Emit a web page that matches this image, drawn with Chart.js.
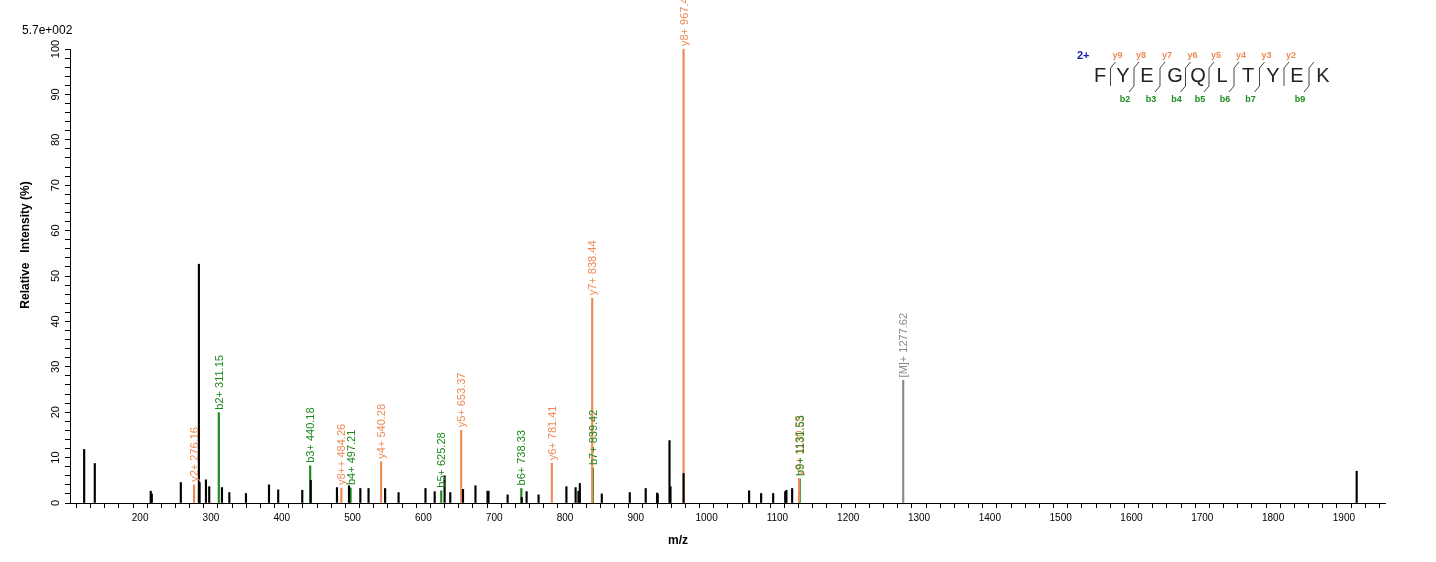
<!DOCTYPE html>
<html>
<head>
<meta charset="utf-8">
<script src="https://cdn.jsdelivr.net/npm/chart.js@4.4.1/dist/chart.umd.min.js"></script>
<style>
  body { margin: 0; background: #fff; }
  #wrap { width: 1436px; height: 562px; }
</style>
</head>
<body>
<div id="wrap"><canvas id="spectrum"></canvas></div>
<script>
// unannotated peaks (m/z, relative intensity %)
const otherMz = [121, 136, 215, 216.5, 257.5, 283, 284, 293, 297.6, 315.6, 326, 349.5, 382, 395, 429, 441, 478, 495, 511, 522.6, 546, 565,
  603, 616, 630, 638, 656, 673.6, 690.6, 692, 719, 739, 745.8, 762.7, 802, 815, 819, 821, 852, 891.5, 914, 930, 931, 947.6, 949, 967.5,
  1060, 1077, 1094, 1111, 1112.7, 1120.8, 1918];
const otherInt = [11.8, 8.7, 2.6, 2.0, 4.5, 52.6, 4.5, 5.1, 3.6, 3.4, 2.3, 2.1, 4.0, 2.9, 2.8, 5.0, 3.4, 3.8, 3.2, 3.2, 3.2, 2.3,
  3.2, 2.5, 6.0, 2.3, 3.0, 3.8, 2.6, 2.6, 1.8, 1.2, 2.5, 1.8, 3.6, 3.4, 2.6, 4.3, 2.0, 2.3, 3.2, 2.2, 2.0, 13.75, 3.6, 6.5,
  2.7, 2.1, 2.1, 2.5, 2.8, 3.2, 7.0];

// y ions
const yMz = [276.16, 484.26, 540.28, 653.37, 781.41, 838.44, 967.49, 1130.55];
const yInt = [4.0, 3.3, 9.1, 16.0, 8.75, 45.1, 100, 5.4];
const yLabels = ['y2+ 276.16', 'y8++ 484.26', 'y4+ 540.28', 'y5+ 653.37', 'y6+ 781.41', 'y7+ 838.44', 'y8+ 967.49', 'y9+ 1130.55'];

// b ions
const bMz = [311.15, 440.18, 497.21, 625.28, 738.33, 839.42, 1131.53];
const bInt = [19.9, 8.2, 3.3, 2.7, 3.2, 7.7, 5.3];
const bLabels = ['b2+ 311.15', 'b3+ 440.18', 'b4+ 497.21', 'b5+ 625.28', 'b6+ 738.33', 'b7+ 839.42', 'b9+ 1131.53'];

// precursor
const mMz = [1277.62];
const mInt = [27.0];
const mLabels = ['[M]+ 1277.62'];

const sequence = ['F', 'Y', 'E', 'G', 'Q', 'L', 'T', 'Y', 'E', 'K'];
const yIonNames = ['y9', 'y8', 'y7', 'y6', 'y5', 'y4', 'y3', 'y2'];
const bIonNames = ['b2', 'b3', 'b4', 'b5', 'b6', 'b7', '', 'b9'];

const ORANGE = '#ee8a55';
const GREEN = '#1c8a1c';
const GREY = '#8a8a8a';

function pts(xs, ys) { return xs.map((x, i) => ({ x: x, y: ys[i] })); }

function ds(xs, ys, color, labels) {
  return {
    data: pts(xs, ys), backgroundColor: color, borderWidth: 0,
    barThickness: 1.5, grouped: false, peakLabels: labels, labelColor: color
  };
}

const overlay = {
  id: 'overlay',
  afterDatasetsDraw(chart) {
    const c = chart.ctx;
    const xs = chart.scales.x, ys = chart.scales.y;
    c.save();
    // peak labels
    c.font = '11px "Liberation Sans", Arial';
    c.textBaseline = 'middle';
    chart.data.datasets.forEach(d => {
      if (!d.peakLabels) return;
      d.data.forEach((p, i) => {
        const px = xs.getPixelForValue(p.x), py = ys.getPixelForValue(p.y);
        c.save();
        c.translate(px + 1, py - 3);
        c.rotate(-Math.PI / 2);
        c.fillStyle = d.labelColor;
        c.textAlign = 'left';
        c.fillText(d.peakLabels[i], 0, 0);
        c.restore();
      });
    });
    // y tick labels, rotated
    c.fillStyle = '#000';
    c.font = '11px "Liberation Sans", Arial';
    for (let v = 0; v <= 100; v += 10) {
      const py = ys.getPixelForValue(v);
      c.save();
      c.translate(xs.left - 14, py);
      c.rotate(-Math.PI / 2);
      c.textAlign = 'center';
      c.fillText(String(v), 0, 0);
      c.restore();
    }
    // axis titles
    c.font = 'bold 12px "Liberation Sans", Arial';
    c.save();
    c.translate(26, 245);
    c.rotate(-Math.PI / 2);
    c.textAlign = 'center';
    c.fillText('Relative   Intensity (%)', 0, 0);
    c.restore();
    c.textAlign = 'center';
    c.fillText('m/z', 678, 541);
    c.font = '12px "Liberation Sans", Arial';
    c.textAlign = 'left';
    c.fillText('5.7e+002', 22, 31);
    // peptide annotation
    c.font = 'bold 11px "Liberation Sans", Arial';
    c.fillStyle = '#1a1aaa';
    c.fillText('2+', 1077, 56);
    c.font = '20px "Liberation Sans", Arial';
    c.fillStyle = '#222';
    c.textAlign = 'center';
    const lx = [1100, 1123, 1147, 1175, 1198, 1222, 1248, 1273, 1297, 1323];
    sequence.forEach((s, i) => c.fillText(s, lx[i], 76));
    c.strokeStyle = '#444';
    c.lineWidth = 1;
    for (let i = 0; i < 9; i++) {
      const sx = (lx[i] + lx[i + 1]) / 2 - 1;
      c.beginPath();
      c.moveTo(sx + 5, 62); c.lineTo(sx, 68); c.lineTo(sx, 86);
      if (bIonNames[i - 1]) c.lineTo(sx - 5, 92);
      c.stroke();
    }
    c.font = 'bold 9px "Liberation Sans", Arial';
    c.fillStyle = ORANGE;
    yIonNames.forEach((n, i) => c.fillText(n, (lx[i] + lx[i + 1]) / 2 + 6, 56));
    c.fillStyle = GREEN;
    bIonNames.forEach((n, i) => { if (n) c.fillText(n, (lx[i + 1] + lx[i + 2]) / 2 - 10, 100); });
    c.restore();
  }
};

new Chart(document.getElementById('spectrum'), {
  type: 'bar',
  data: {
    datasets: [
      ds(otherMz, otherInt, '#000', null),
      ds(yMz, yInt, ORANGE, yLabels),
      ds(bMz, bInt, GREEN, bLabels),
      ds(mMz, mInt, GREY, mLabels)
    ]
  },
  options: {
    responsive: true,
    maintainAspectRatio: false,
    animation: false,
    layout: { padding: { top: 49, right: 51, left: 0, bottom: 0 } },
    plugins: { legend: { display: false }, tooltip: { enabled: false } },
    scales: {
      x: {
        type: 'linear', min: 101, max: 1958, offset: false,
        afterFit: s => { s.height = 59; },
        border: { color: '#000', width: 1 },
        grid: { drawOnChartArea: false, color: '#000', tickLength: 5 },
        ticks: {
          stepSize: 20, autoSkip: false, includeBounds: false, maxRotation: 0, color: '#000', padding: 4,
          font: { size: 10, family: '"Liberation Sans", Arial' },
          callback: v => (v % 100 === 0 && v >= 200) ? String(v) : ''
        }
      },
      y: {
        min: 0, max: 100,
        afterFit: s => { s.width = 70; },
        border: { color: '#000', width: 1 },
        grid: { drawOnChartArea: false, color: '#000', tickLength: 5 },
        ticks: { stepSize: 2, autoSkip: false, callback: () => '' }
      }
    }
  },
  plugins: [overlay]
});
</script>
</body>
</html>
